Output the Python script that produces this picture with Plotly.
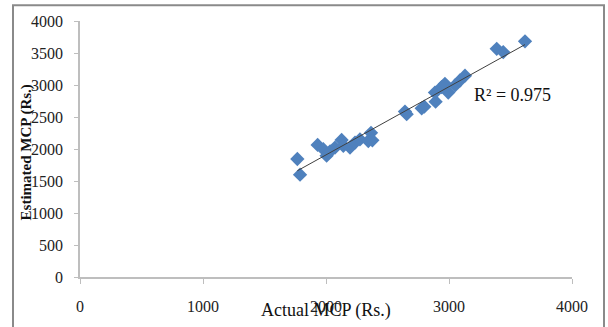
import numpy as np
import plotly.graph_objects as go

actual_mcp = [1767, 1789, 1932, 1978, 2005, 2033, 2073, 2127, 2141, 2195, 2236, 2276, 2344, 2366, 2377,
              2642, 2656, 2778, 2799, 2891, 2886, 2940, 2967, 2994, 3049, 3089, 3130,
              3388, 3441, 3618]
estimated_mcp = [1844, 1599, 2064, 1997, 1895, 1962, 2023, 2141, 2049, 2023, 2100, 2150, 2125, 2253, 2135,
                 2585, 2544, 2636, 2662, 2739, 2881, 2968, 3019, 2881, 2993, 3070, 3146,
                 3566, 3514, 3683]
axis_ticks = [0, 500, 1000, 1500, 2000, 2500, 3000, 3500, 4000]
x_ticks = [0, 1000, 2000, 3000, 4000]
r2_label = "R² = 0.975"

slope, intercept = np.polyfit(actual_mcp, estimated_mcp, 1)
xfit = np.array([min(actual_mcp), max(actual_mcp)])
yfit = slope * xfit + intercept

serif = "Liberation Serif, Times New Roman, serif"

fig = go.Figure()
fig.add_trace(go.Scatter(x=actual_mcp, y=estimated_mcp, mode="markers",
                         marker=dict(symbol="diamond", size=11, color="#4F81BD"),
                         showlegend=False, hoverinfo="skip"))
fig.add_trace(go.Scatter(x=xfit, y=yfit, mode="lines",
                         line=dict(color="#404040", width=1), showlegend=False, hoverinfo="skip"))

fig.update_layout(
    width=608, height=327,
    margin=dict(l=80, r=36, t=21, b=45),
    paper_bgcolor="white", plot_bgcolor="white",
    font=dict(family=serif, size=14, color="#222"),
    xaxis=dict(range=[0, 4000], tickvals=x_ticks, showgrid=False, zeroline=False,
               showline=True, linecolor="#BEBEBE", linewidth=1.5,
               ticks="outside", ticklen=5, tickcolor="#BEBEBE",
               ticklabelstandoff=9, tickfont=dict(family=serif, size=16, color="#222")),
    yaxis=dict(range=[0, 4000], tickvals=axis_ticks, showgrid=False, zeroline=False,
               showline=True, linecolor="#BEBEBE", linewidth=1.5,
               ticks="outside", ticklen=4, tickcolor="#BEBEBE",
               ticklabelstandoff=8, tickfont=dict(family=serif, size=16, color="#222")),
    shapes=[dict(type="rect", xref="paper", yref="paper",
                 x0=(13 - 80) / 492, x1=(604 - 80) / 492,
                 y0=-0.3, y1=(282 - 5) / 261,
                 line=dict(color="#8A8A8A", width=2), fillcolor="rgba(0,0,0,0)", layer="below")],
    annotations=[
        dict(text=r2_label, x=3187, y=2851, xref="x", yref="y", xanchor="left", yanchor="middle",
             showarrow=False, font=dict(family=serif, size=18, color="#111")),
        dict(text="<b>Estimated MCP (Rs.)</b>", textangle=-90, xref="paper", yref="paper",
             x=(26 - 80) / 492, y=(282 - 155) / 261, xanchor="center", yanchor="middle",
             showarrow=False, font=dict(family=serif, size=15, color="#111")),
        dict(text="Actual MCP (Rs.)", xref="paper", yref="paper",
             x=(326 - 80) / 492, y=(282 - 316) / 261, xanchor="center", yanchor="middle",
             showarrow=False, font=dict(family=serif, size=18, color="#111")),
    ],
)

fig.write_html("out.html")
